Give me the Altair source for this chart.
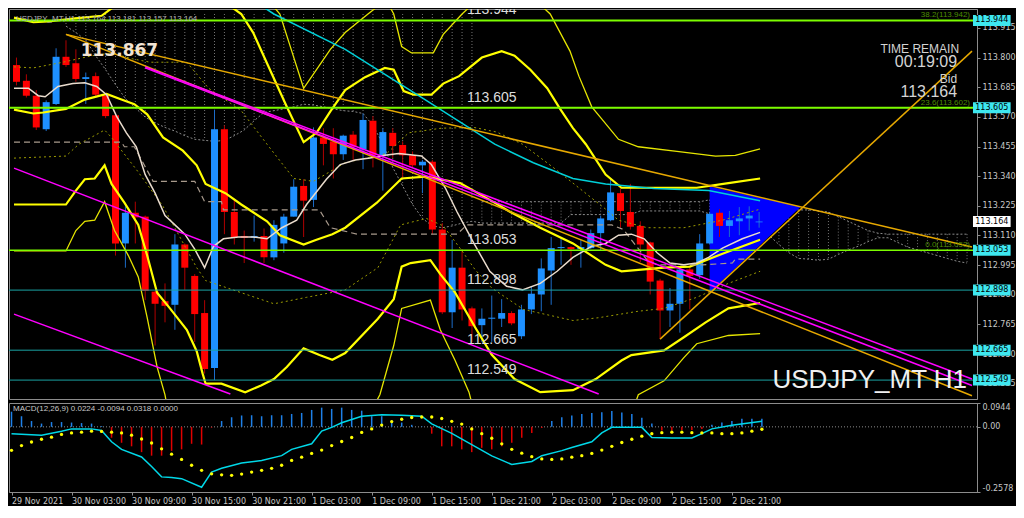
import json
import altair as alt
import pandas as pd

# ---------------- values ----------------
bar_index = list(range(76))

candle_open = [113.771, 113.710, 113.652, 113.522, 113.620, 113.803, 113.778, 113.717, 113.728, 113.652,
               113.576, 113.079, 113.198, 113.183, 112.892, 112.855, 112.841, 113.075, 112.953, 112.809,
               112.596, 113.522, 113.201, 113.108, 113.101, 113.108, 113.025, 113.079, 113.183, 113.302,
               113.248, 113.490, 113.475, 113.425, 113.501, 113.443, 113.555, 113.418, 113.508, 113.461,
               113.421, 113.382, 113.396, 113.133, 112.812, 112.985, 112.827, 112.762, 112.787, 112.787,
               112.809, 112.719, 112.823, 112.881, 112.974, 113.061, 113.065, 113.057, 113.061, 113.119,
               113.169, 113.274, 113.201, 113.147, 113.083, 112.935, 112.819, 112.845, 112.978, 112.956,
               113.079, 113.198, 113.147, 113.165, 113.176, 113.161]
candle_high = [113.800, 113.735, 113.674, 113.634, 113.836, 113.867, 113.832, 113.742, 113.742, 113.663,
               113.580, 113.223, 113.241, 113.187, 112.895, 112.924, 113.115, 113.079, 112.960, 112.859,
               113.598, 113.537, 113.248, 113.129, 113.187, 113.137, 113.169, 113.194, 113.328, 113.328,
               113.529, 113.526, 113.526, 113.501, 113.515, 113.583, 113.573, 113.526, 113.526, 113.475,
               113.436, 113.403, 113.403, 113.158, 113.093, 113.057, 112.834, 112.827, 112.877, 112.863,
               112.816, 112.841, 112.913, 113.021, 113.104, 113.104, 113.068, 113.093, 113.133, 113.187,
               113.331, 113.292, 113.310, 113.165, 113.086, 112.942, 112.906, 112.985, 112.985, 113.115,
               113.201, 113.212, 113.205, 113.220, 113.223, 113.201]
candle_low = [113.692, 113.645, 113.519, 113.515, 113.616, 113.764, 113.706, 113.620, 113.645, 113.565,
              113.032, 112.985, 113.079, 112.859, 112.683, 112.773, 112.744, 112.899, 112.697, 112.574,
              112.549, 113.115, 113.075, 113.003, 113.086, 113.003, 113.014, 113.043, 113.183, 113.104,
              113.220, 113.382, 113.331, 113.403, 113.403, 113.367, 113.374, 113.284, 113.410, 113.331,
              113.374, 113.274, 113.115, 112.805, 112.751, 112.780, 112.697, 112.697, 112.697, 112.755,
              112.762, 112.708, 112.805, 112.816, 112.841, 112.996, 112.996, 112.985, 113.057, 113.050,
              113.165, 113.140, 113.133, 113.007, 112.881, 112.708, 112.755, 112.733, 112.823, 112.942,
              113.075, 113.104, 113.104, 113.111, 113.129, 113.140]
candle_close = [113.706, 113.652, 113.529, 113.627, 113.803, 113.771, 113.717, 113.724, 113.656, 113.573,
                113.079, 113.198, 113.180, 112.895, 112.845, 112.837, 113.075, 112.985, 112.805, 112.592,
                113.522, 113.201, 113.104, 113.101, 113.108, 113.025, 113.151, 113.183, 113.299, 113.245,
                113.490, 113.465, 113.425, 113.497, 113.454, 113.558, 113.421, 113.511, 113.457, 113.421,
                113.382, 113.396, 113.133, 112.812, 112.985, 112.823, 112.758, 112.787, 112.791, 112.809,
                112.769, 112.823, 112.884, 112.982, 113.061, 113.065, 113.057, 113.065, 113.119, 113.176,
                113.277, 113.205, 113.144, 113.075, 112.931, 112.819, 112.845, 112.978, 112.953, 113.079,
                113.194, 113.147, 113.169, 113.176, 113.187, 113.164]

price_ticks = [113.915, 113.800, 113.685, 113.570, 113.455, 113.340, 113.225,
               113.110, 112.995, 112.880, 112.765, 112.650, 112.535]
time_tick_index = [0, 6, 12, 18, 24, 30, 36, 42, 48, 54, 60, 66, 72]
time_tick_labels = ["29 Nov 2021", "30 Nov 03:00", "30 Nov 09:00", "30 Nov 15:00", "30 Nov 21:00",
                    "1 Dec 03:00", "1 Dec 09:00", "1 Dec 15:00", "1 Dec 21:00", "2 Dec 03:00",
                    "2 Dec 09:00", "2 Dec 15:00", "2 Dec 21:00"]

level_prices = [113.944, 113.605, 113.053, 112.898, 112.665, 112.549]
level_labels = ["113.944", "113.605", "113.053", "112.898", "112.665", "112.549"]
level_colors = ["#7cfc00", "#7cfc00", "#7cfc00", "#1aa3a3", "#1aa3a3", "#1aa3a3"]
level_widths = [2, 2, 1.5, 1, 1, 1]
fib_prices = [113.944, 113.605, 113.053]
fib_labels = ["38.2(113.942)", "23.6(113.602)", "0.0(113.053)"]
bid_price = 113.164
swing_high = 113.867

# moving averages / bands (bar index, price)
ma_fast = [(-0.25, 113.681), (1.2, 113.681), (2.2, 113.652), (2.9, 113.648), (4.2, 113.688), (5.7, 113.699),
           (6.9, 113.702), (8.1, 113.688), (9.1, 113.656), (10.1, 113.573), (11.1, 113.508), (12.1, 113.454),
           (13.0, 113.346), (14.0, 113.274), (15.0, 113.187), (16.0, 113.151), (17.0, 113.115), (18.0, 113.057),
           (19.0, 112.985), (19.9, 113.068), (20.9, 113.097), (22.4, 113.104), (23.9, 113.104), (25.3, 113.097),
           (26.8, 113.140), (28.3, 113.169), (29.3, 113.230), (31.3, 113.328), (32.7, 113.385), (34.2, 113.403),
           (35.7, 113.410), (37.2, 113.421), (38.6, 113.428), (40.9, 113.418), (41.9, 113.385), (43.3, 113.295),
           (44.5, 113.201), (46.2, 113.079), (47.8, 112.971), (49.5, 112.913), (51.1, 112.899), (52.9, 112.924),
           (54.6, 112.971), (56.2, 113.025), (58.1, 113.068), (59.5, 113.079), (60.8, 113.111), (62.1, 113.115),
           (63.4, 113.097), (64.7, 113.043), (66.0, 113.003), (67.4, 112.996), (68.7, 113.003), (69.9, 113.025),
           (71.3, 113.061), (73.3, 113.097), (75.1, 113.122)]
kijun = [(-0.25, 113.472), (10.6, 113.472), (10.9, 113.454), (11.9, 113.454), (13.8, 113.320), (18.0, 113.320),
         (19.0, 113.241), (20.7, 113.241), (20.9, 113.209), (30.6, 113.209), (31.7, 113.140), (34.4, 113.115),
         (44.5, 113.115), (45.5, 113.151), (60.1, 113.151), (61.3, 113.133), (63.7, 113.014), (64.7, 112.996),
         (69.3, 112.996), (72.3, 113.003), (72.6, 113.018), (75.1, 113.018)]
ma_slow = [(22.4, 114.059), (26.0, 113.969), (33.2, 113.832), (41.1, 113.641), (48.3, 113.464), (52.2, 113.392),
           (56.2, 113.331), (59.5, 113.310), (64.4, 113.292), (69.9, 113.284), (75.1, 113.245)]
bb_mid = [(-0.25, 113.598), (1.7, 113.583), (2.7, 113.587), (5.0, 113.601), (6.9, 113.637), (9.1, 113.659),
          (10.6, 113.637), (11.9, 113.619), (13.2, 113.580), (14.8, 113.490), (16.8, 113.439), (18.2, 113.382),
          (19.1, 113.310), (21.1, 113.274), (22.7, 113.230), (25.3, 113.165), (26.6, 113.111), (29.0, 113.075),
          (30.3, 113.093), (31.9, 113.115), (33.2, 113.140), (36.4, 113.237), (38.9, 113.331), (41.3, 113.338),
          (44.8, 113.313), (47.8, 113.248), (49.7, 113.205), (52.9, 113.140), (56.2, 113.079), (59.5, 112.996),
          (61.1, 112.971), (65.4, 112.985), (68.0, 112.989), (71.3, 113.039), (75.1, 113.093)]
bb_up2 = [(-0.25, 113.955), (1.7, 113.937), (3.2, 113.940), (5.7, 113.951), (8.6, 113.962), (9.6, 113.991),
          (13.5, 114.041), (19.4, 114.041), (21.9, 113.991), (22.7, 113.969), (23.9, 113.897), (25.3, 113.778),
          (27.3, 113.609), (29.0, 113.472), (30.3, 113.508), (31.7, 113.591), (33.2, 113.674), (35.2, 113.724),
          (37.2, 113.760), (38.1, 113.753), (39.1, 113.670), (40.1, 113.656), (41.9, 113.656), (43.1, 113.699),
          (44.7, 113.728), (47.0, 113.800), (49.0, 113.825), (50.3, 113.807), (51.9, 113.753), (53.6, 113.681),
          (54.9, 113.601), (56.2, 113.526), (57.5, 113.464), (59.5, 113.346), (61.1, 113.295), (65.4, 113.295),
          (68.7, 113.295), (71.9, 113.313), (75.1, 113.331)]
bb_dn2 = [(-0.25, 113.230), (5.0, 113.230), (6.0, 113.284), (6.9, 113.328), (7.9, 113.331), (8.9, 113.382),
          (9.6, 113.310), (10.9, 113.237), (12.3, 113.151), (13.2, 113.032), (14.2, 112.888), (15.5, 112.827),
          (17.2, 112.744), (18.2, 112.661), (18.8, 112.574), (19.1, 112.535), (20.7, 112.535), (23.1, 112.502),
          (24.7, 112.528), (26.0, 112.553), (27.3, 112.600), (29.0, 112.672), (30.6, 112.646), (31.9, 112.628),
          (33.2, 112.654), (36.5, 112.787), (38.1, 112.863), (38.9, 112.989), (39.8, 113.003), (41.8, 113.014),
          (42.8, 112.960), (44.3, 112.888), (46.3, 112.755), (48.0, 112.647), (50.3, 112.553), (52.9, 112.502),
          (56.2, 112.510), (58.5, 112.553), (61.1, 112.625), (62.1, 112.646), (65.4, 112.664), (67.4, 112.715),
          (69.6, 112.773), (71.9, 112.827), (75.1, 112.848)]
bb_up3 = [(-0.25, 114.131), (19.4, 114.131), (25.8, 114.005), (26.6, 113.969), (27.8, 113.825), (29.0, 113.681),
          (30.3, 113.753), (31.7, 113.832), (33.2, 113.897), (35.5, 113.969), (36.7, 114.005), (37.6, 114.005),
          (38.1, 113.969), (38.9, 113.843), (39.9, 113.818), (42.1, 113.818), (43.1, 113.890), (44.3, 113.940),
          (45.0, 113.969), (46.0, 114.005), (52.9, 114.005), (53.9, 113.969), (55.9, 113.825), (56.8, 113.728),
          (58.1, 113.609), (59.1, 113.562), (60.8, 113.483), (62.8, 113.454), (66.7, 113.436), (70.6, 113.418),
          (72.6, 113.421), (75.1, 113.446)]
bb_dn3 = [(-0.25, 113.050), (5.0, 113.050), (6.0, 113.129), (6.9, 113.165), (7.9, 113.169), (8.9, 113.241),
          (9.9, 113.129), (11.3, 113.032), (12.3, 112.949), (13.2, 112.791), (14.2, 112.600), (15.0, 112.492),
          (15.5, 112.383), (35.2, 112.383), (36.7, 112.492), (38.1, 112.683), (38.9, 112.827), (41.8, 112.859),
          (42.8, 112.744), (44.3, 112.625), (45.7, 112.502), (46.5, 112.383), (61.8, 112.383), (62.8, 112.492),
          (65.4, 112.546), (67.4, 112.636), (68.7, 112.690), (71.9, 112.722), (75.1, 112.729)]
bb_up1 = [(-0.25, 113.764), (1.7, 113.760), (4.7, 113.782), (7.6, 113.807), (9.6, 113.818), (11.6, 113.796),
          (13.5, 113.782), (17.2, 113.782), (19.4, 113.681), (22.7, 113.594), (25.3, 113.464), (28.0, 113.331),
          (30.0, 113.320), (33.2, 113.392), (37.4, 113.428), (39.6, 113.508), (42.9, 113.526), (46.2, 113.529),
          (48.5, 113.511), (51.1, 113.464), (54.2, 113.374), (56.2, 113.313), (59.5, 113.212), (60.8, 113.169),
          (63.7, 113.140), (67.4, 113.140), (71.3, 113.169), (75.1, 113.212)]
bb_dn1 = [(-0.25, 113.410), (5.0, 113.418), (6.3, 113.464), (8.9, 113.519), (9.6, 113.490), (12.3, 113.356),
          (14.8, 113.223), (18.2, 112.985), (19.1, 112.935), (22.7, 112.888), (26.0, 112.845), (29.3, 112.870),
          (33.2, 112.899), (36.5, 112.985), (38.8, 113.151), (41.4, 113.176), (43.1, 113.147), (45.0, 113.050),
          (46.3, 112.978), (48.0, 112.906), (51.2, 112.823), (56.2, 112.780), (58.8, 112.791), (62.8, 112.816),
          (65.4, 112.827), (68.7, 112.870), (71.9, 112.924), (75.1, 112.971)]

# ichimoku cloud (bar index, top price, bottom price)
kumo_index = list(range(5, 97))
kumo_top = [113.969, 113.969, 113.969, 113.969, 113.969, 113.969, 113.969, 113.969, 113.969, 113.969,
            113.969, 113.969, 113.969, 113.969, 113.969, 113.969, 113.969, 113.969, 113.969, 113.969,
            113.969, 113.969, 113.969, 113.969, 113.969, 113.969, 113.969, 113.969, 113.969, 113.969,
            113.969, 113.969, 113.969, 113.969, 113.969, 113.969, 113.969, 113.969, 113.969, 113.969,
            113.969, 113.969,
            113.241, 113.241, 113.241, 113.241, 113.241, 113.241, 113.241, 113.241, 113.241, 113.241,
            113.241, 113.241, 113.241, 113.241, 113.241, 113.241, 113.241, 113.241, 113.241, 113.241,
            113.241, 113.241, 113.241,
            113.248, 113.245, 113.241, 113.234, 113.230, 113.223, 113.220, 113.216, 113.212, 113.209,
            113.209, 113.205, 113.201, 113.183, 113.165, 113.147, 113.129, 113.119, 113.115, 113.115,
            113.115, 113.115, 113.115, 113.115, 113.115, 113.115, 113.115]
kumo_bottom = [113.922, 113.897, 113.868, 113.807, 113.753, 113.695, 113.641, 113.605, 113.569, 113.547,
               113.529, 113.515, 113.497, 113.483, 113.479, 113.475, 113.479, 113.497, 113.519, 113.555,
               113.587, 113.594, 113.601, 113.609, 113.619, 113.616, 113.609, 113.601, 113.594, 113.591,
               113.583, 113.537, 113.465, 113.374, 113.302, 113.230, 113.176, 113.147, 113.140, 113.147,
               113.158, 113.165,
               113.158, 113.158, 113.158, 113.158, 113.158, 113.158, 113.158, 113.158, 113.158, 113.191,
               113.191, 113.191, 113.191, 113.191, 113.191, 113.191, 113.205, 113.205, 113.205, 113.205,
               113.205, 113.205, 113.205,
               113.194, 113.194, 113.194, 113.194, 113.194, 113.176, 113.111, 113.075, 113.043, 113.021,
               113.018, 113.014, 113.018, 113.036, 113.054, 113.068, 113.086, 113.101, 113.101, 113.083,
               113.065, 113.054, 113.043, 113.032, 113.021, 113.010, 113.003]

# drawn objects (bar index, price)
trend_upper = [(5.0, 113.890), (96.5, 113.065)]
trend_lower = [(5.0, 113.890), (96.5, 112.488)]
trend_rising = [(65.0, 112.708), (96.5, 113.825)]
channel_a = [(13.0, 113.764), (96.5, 112.553)]
channel_b = [(13.0, 113.760), (96.5, 112.528)]
channel_c = [(-0.25, 113.371), (58.8, 112.495)]
channel_d = [(-0.25, 112.805), (21.6, 112.495)]
triangle = [(70.0, 113.300, 112.888), (79.2, 113.221, 113.221)]

# MACD panel
macd_hist = [0.060, 0.042, 0.023, 0.013, 0.019, 0.019, 0.017, 0.015, 0.013, 0.003,
             -0.043, -0.063, -0.077, -0.100, -0.114, -0.114, -0.095, -0.089, -0.067, -0.070,
             -0.003, 0.023, 0.038, 0.045, 0.046, 0.042, 0.046, 0.046, 0.051, 0.055,
             0.067, 0.076, 0.071, 0.076, 0.067, 0.064, 0.042, 0.042, 0.026, 0.017,
             0.008, 0.002, -0.027, -0.077, -0.077, -0.089, -0.100, -0.083, -0.089, -0.077,
             -0.063, -0.043, -0.024, -0.005, 0.023, 0.038, 0.045, 0.051, 0.055, 0.058,
             0.063, 0.057, 0.051, 0.036, 0.013, -0.014, -0.014, -0.012, -0.012, -0.008,
             0.008, 0.017, 0.023, 0.032, 0.032, 0.0318]
macd_signal = [-0.093, -0.074, -0.060, -0.049, -0.041, -0.030, -0.024, -0.021, -0.017, -0.018,
               -0.021, -0.024, -0.033, -0.048, -0.064, -0.087, -0.108, -0.129, -0.152, -0.172,
               -0.186, -0.190, -0.192, -0.187, -0.179, -0.172, -0.164, -0.152, -0.133, -0.120,
               -0.105, -0.092, -0.074, -0.058, -0.042, -0.022, -0.008, 0.007, 0.021, 0.030,
               0.037, 0.039, 0.039, 0.033, 0.022, 0.011, -0.008, -0.027, -0.045, -0.067,
               -0.089, -0.104, -0.118, -0.127, -0.129, -0.127, -0.120, -0.114, -0.105, -0.092,
               -0.077, -0.062, -0.049, -0.037, -0.027, -0.023, -0.021, -0.021, -0.023, -0.024,
               -0.024, -0.027, -0.027, -0.024, -0.017, -0.0094]
macd_main = [(0, -0.027), (3, -0.033), (5, -0.017), (6, -0.008), (8, -0.008), (9, -0.014), (10, -0.059),
             (11, -0.089), (13, -0.119), (14, -0.157), (15, -0.198), (16, -0.200), (17, -0.205), (19, -0.239),
             (20, -0.179), (21, -0.164), (23, -0.143), (25, -0.133), (27, -0.114), (28, -0.089), (30, -0.067),
             (31, -0.017), (32, -0.002), (33, 0.016), (35, 0.042), (37, 0.048), (39, 0.046), (41, 0.042),
             (42, 0.012), (44, -0.026), (46, -0.070), (48, -0.115), (50, -0.149), (52, -0.137), (53, -0.114),
             (55, -0.094), (56, -0.082), (58, -0.059), (59, -0.024), (60, -0.002), (63, -0.002), (64, -0.042),
             (66, -0.044), (68, -0.044), (69, -0.027), (70, -0.008), (72, 0.006), (75, 0.0224)]
macd_ticks = [0.0944, 0.0, -0.2578]

# ---------------- layout / style ----------------
W, H_MAIN, H_MACD = 968, 390, 89
GRAY = "#8c8c8c"
LABEL = "#c8c8c8"
FONT = "DejaVu Sans"

xs = alt.Scale(domain=[-0.25, 96.5], nice=False, zero=False)
ps = alt.Scale(domain=[112.495, 113.969], nice=False, zero=False)
ms = alt.Scale(domain=[-0.2578, 0.0944], nice=False, zero=False)

p_axis = alt.Axis(orient="right", values=price_ticks, format=".3f", title=None, grid=False,
                  labelColor=LABEL, labelFont=FONT, labelFontSize=8, labelPadding=2,
                  tickColor=GRAY, tickSize=3, domainColor=GRAY, labelOverlap=False)
X = alt.X("x:Q", scale=xs, axis=None)
Y = alt.Y("y:Q", scale=ps, axis=p_axis)


def line(points, color, width, dash=None):
    df = pd.DataFrame(points, columns=["x", "y"])
    kw = dict(color=color, strokeWidth=width, clip=True)
    if dash:
        kw["strokeDash"] = dash
    return alt.Chart(df).mark_line(**kw).encode(x=X, y=Y)


def texts(rows, **style):
    df = pd.DataFrame(rows, columns=["x", "y", "t"])
    return alt.Chart(df).mark_text(**style).encode(x=X, y=Y, text="t:N")


layers = []

# ichimoku hatch + edges
kumo = pd.DataFrame({"x": kumo_index, "y": kumo_top, "y2": kumo_bottom})
layers.append(alt.Chart(kumo).mark_rule(color="#747474", strokeDash=[1, 2], strokeWidth=1, clip=True)
              .encode(x=X, y=Y, y2="y2:Q"))
layers.append(line(list(zip(kumo_index, kumo_bottom)), "#8a8a8a", 1, [2, 2]))
layers.append(line([(i, t) for i, t in zip(kumo_index, kumo_top) if t < 113.9], "#8a8a8a", 1, [2, 2]))

# triangle object (background)
tri = pd.DataFrame(triangle, columns=["x", "y", "y2"])
layers.append(alt.Chart(tri).mark_area(color="#0000ff", opacity=1, clip=True).encode(x=X, y=Y, y2="y2:Q"))

# candles
cd = pd.DataFrame({"x": bar_index, "o": candle_open, "h": candle_high, "l": candle_low, "c": candle_close})
up = cd["c"] >= cd["o"]
cd["y"] = cd[["o", "c"]].min(axis=1)
cd["y2"] = cd[["o", "c"]].max(axis=1)
cd["body"] = ["#1e90ff" if u else "#ff0000" for u in up]
cd["wick"] = ["#1c6cc8" if u else "#b00000" for u in up]
wick_df = cd[["x", "l", "h", "wick"]].rename(columns={"l": "y", "h": "y2"})
layers.append(alt.Chart(wick_df).mark_rule(strokeWidth=1, clip=True)
              .encode(x=X, y=Y, y2="y2:Q", color=alt.Color("wick:N", scale=None)))
layers.append(alt.Chart(cd[["x", "y", "y2", "body"]]).mark_bar(size=7, clip=True)
              .encode(x=X, y=Y, y2="y2:Q", color=alt.Color("body:N", scale=None)))

# indicators
layers.append(line(bb_up3, "#e6e600", 1.3))
layers.append(line(bb_dn3, "#e6e600", 1.3))
layers.append(line(bb_up1, "#9a9a00", 1, [2, 3]))
layers.append(line(bb_dn1, "#9a9a00", 1, [2, 3]))
layers.append(line(bb_up2, "#ffff00", 2.2))
layers.append(line(bb_dn2, "#ffff00", 2.2))
layers.append(line(bb_mid, "#ffff00", 2.2))
layers.append(line(kijun, "#a89a8c", 1.2, [6, 4]))
layers.append(line(ma_slow, "#00d0d8", 1.5))
layers.append(line(ma_fast, "#eadccd", 1.5))

# horizontal levels
lv = pd.DataFrame({"y": level_prices, "c": level_colors, "w": level_widths})
layers.append(alt.Chart(lv).mark_rule(clip=True).encode(
    y=Y, color=alt.Color("c:N", scale=None), strokeWidth=alt.StrokeWidth("w:Q", scale=None)))

# trend lines / channels
for pts in (trend_upper, trend_lower, trend_rising):
    layers.append(line(pts, "#e6a800", 1.5))
for pts in (channel_a, channel_b, channel_c, channel_d):
    layers.append(line(pts, "#ff00ff", 1.5))

# texts
layers.append(texts([(-0.05, 113.969, "USDJPY_MT,H1 113.164 113.181 113.157 113.164")],
                    align="left", baseline="top", dy=1, font="Liberation Sans", fontSize=8,
                    color="#b4b4b4", clip=True))
layers.append(texts([(10.4, 113.825, f"{swing_high:.3f}")], align="center", baseline="middle",
                    font=FONT, fontSize=17, fontWeight="bold", color="#f2e4d4", clip=True))
layers.append(texts([(48.0, p, t) for p, t in zip(level_prices, level_labels)], align="center",
                    baseline="bottom", dy=-3, font="Liberation Sans", fontSize=14, color="#dcdcdc", clip=True))
layers.append(texts([(96.3, p, t) for p, t in zip(fib_prices, fib_labels)], align="right",
                    baseline="bottom", dy=-1, font="Liberation Sans", fontSize=8, color="#4c8c00", clip=True))
layers.append(texts([(95.2, 113.832, "TIME REMAIN")], align="right", baseline="middle",
                    font="Liberation Sans", fontSize=12, color="#d4d4d4", clip=True))
layers.append(texts([(95.0, 113.782, "00:19:09"), (95.0, 113.666, f"{bid_price:.3f}")], align="right",
                    baseline="middle", font="Liberation Sans", fontSize=16, color="#d4d4d4", clip=True))
layers.append(texts([(95.0, 113.717, "Bid")], align="right", baseline="middle",
                    font="Liberation Sans", fontSize=12, color="#d4d4d4", clip=True))
layers.append(texts([(96.0, 112.517, "USDJPY_MT H1")], align="right", baseline="alphabetic",
                    font="Liberation Sans", fontSize=26, color="#f0f0f0", clip=True))

# price tags on the right axis
tag_prices = level_prices + [bid_price]
tag_bg = ["#3ee8f0"] * len(level_prices) + ["#ffffff"]
tags = pd.DataFrame({"x": 96.6, "x2": 100.4, "y": tag_prices, "bg": tag_bg,
                     "t": [f"{p:.3f}" for p in tag_prices], "xt": 98.5})
layers.append(alt.Chart(tags).mark_bar(size=11, clip=False).encode(
    x=X, x2="x2:Q", y=Y, color=alt.Color("bg:N", scale=None)))
layers.append(alt.Chart(tags).mark_text(font=FONT, fontSize=8, color="#000000", baseline="middle",
                                        align="center", clip=False)
              .encode(x=alt.X("xt:Q", scale=xs, axis=None), y=Y, text="t:N"))

main = alt.layer(*layers).properties(width=W, height=H_MAIN)

# ---------------- MACD panel ----------------
t_axis = alt.Axis(values=time_tick_index,
                  labelExpr=f"{json.dumps(time_tick_labels)}[round(datum.value / 6)]",
                  labelAlign="left", labelPadding=2, labelColor=LABEL, labelFont=FONT, labelFontSize=8,
                  tickColor=GRAY, tickSize=3, domainColor=GRAY, grid=False, title=None,
                  labelOverlap=False, labelFlush=False)
m_axis = alt.Axis(orient="right", values=macd_ticks, title=None, grid=False,
                  labelExpr="datum.value == 0 ? '0.00' : (datum.value < 0 ? '-' + format(-datum.value, '.4f') : format(datum.value, '.4f'))",
                  labelFlush=True, labelColor=LABEL, labelFont=FONT, labelFontSize=8, labelPadding=2,
                  tickColor=GRAY, tickSize=3, domainColor=GRAY, labelOverlap=False)
Xm = alt.X("x:Q", scale=xs, axis=t_axis)
Ym = alt.Y("y:Q", scale=ms, axis=m_axis)

hist = pd.DataFrame({"x": bar_index, "y": macd_hist, "y2": 0.0})
hist["c"] = ["#1e80e8" if v >= 0 else "#e00000" for v in macd_hist]
zero = pd.DataFrame({"y": [0.0]})
sig = pd.DataFrame({"x": bar_index, "y": macd_signal})
mline = pd.DataFrame(macd_main, columns=["x", "y"])
mlabel = pd.DataFrame({"x": [0.15], "y": [0.0944], "t": ["MACD(12,26,9) 0.0224 -0.0094 0.0318 0.0000"]})

macd = alt.layer(
    alt.Chart(zero).mark_rule(color=GRAY, strokeDash=[1, 2], strokeWidth=1).encode(y=Ym),
    alt.Chart(hist).mark_rule(strokeWidth=1.5, clip=True).encode(
        x=Xm, y=Ym, y2="y2:Q", color=alt.Color("c:N", scale=None)),
    alt.Chart(mline).mark_line(color="#00d8e8", strokeWidth=1.5, clip=True).encode(x=Xm, y=Ym),
    alt.Chart(sig).mark_circle(size=11, color="#ffff00", opacity=1, clip=True).encode(x=Xm, y=Ym),
    alt.Chart(mlabel).mark_text(align="left", baseline="top", dy=2, font="Liberation Sans", fontSize=8,
                                color=LABEL).encode(x=Xm, y=Ym, text="t:N"),
).properties(width=W, height=H_MACD)

chart = (alt.vconcat(main, macd, spacing=2)
         .properties(padding=0, background="#000000")
         .configure_view(stroke=GRAY, strokeWidth=1))

chart.save("out.html", embed_options={"renderer": "svg", "actions": False})
